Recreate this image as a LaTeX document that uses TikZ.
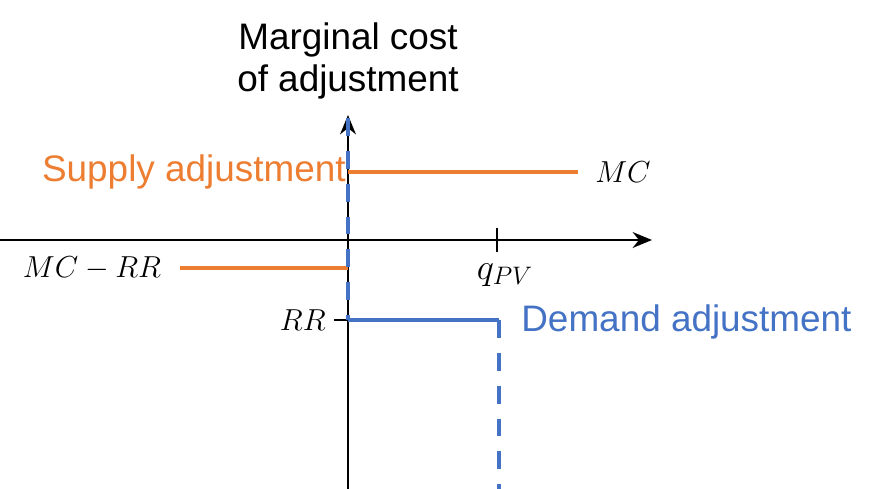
\documentclass[tikz,border=0pt]{standalone}
\usepackage{fontspec}
\setmainfont{Liberation Sans}
\usetikzlibrary{arrows.meta}
\definecolor{supplyorange}{RGB}{237,125,49}
\definecolor{demandblue}{RGB}{68,114,196}
\tikzset{
    axis/.style = {black, line width = 1.4pt},
    supplyline/.style = {supplyorange, line width = 2.4pt},
    demandline/.style = {demandblue, line width = 2.4pt},
    demanddash/.style = {demandline, dash pattern = on 10.2pt off 8.5pt},
    bigtext/.style = {font = \fontsize{21}{24}\selectfont, inner sep = 0pt},
    mathlabel/.style = {font = \fontsize{19}{22}\selectfont, inner sep = 0pt}
}
\begin{document}
\begin{tikzpicture}[x = 0.02cm, y = -0.02cm]
                \useasboundingbox (0,0) rectangle (885,489);
                % axes
                \coordinate (O) at (348,240);
                \coordinate (xstart) at (0,240);
                \coordinate (xend) at (652,240);
                \coordinate (ystart) at (348,489);
                \coordinate (yend) at (348,115);
                \draw[axis, -{Stealth[length=11pt, width=9pt]}] (xstart) -- (xend);
                \draw[axis, -{Stealth[length=11pt, width=9pt]}] (ystart) -- (yend);
                % ticks
                \coordinate (qtop) at (497,228);
                \coordinate (qbot) at (497,252);
                \draw[axis] (qtop) -- (qbot);
                \coordinate (rrleft) at (334,320);
                \coordinate (rrright) at (362,320);
                \draw[axis] (rrleft) -- (rrright);
                % supply adjustment
                \coordinate (mcleft) at (348,172);
                \coordinate (mcright) at (578,172);
                \draw[supplyline] (mcleft) -- (mcright);
                \coordinate (mrleft) at (180,268);
                \coordinate (mrright) at (348,268);
                \draw[supplyline] (mrleft) -- (mrright);
                % demand adjustment
                \coordinate (dtop) at (348,118);
                \coordinate (dcorner) at (348,320);
                \coordinate (qcorner) at (499,320);
                \coordinate (qend) at (499,489);
                \draw[demanddash] (dtop) -- (dcorner);
                \draw[demandline] (dcorner) -- (qcorner);
                \draw[demanddash] (qcorner) -- (qend);
                % labels
                \node[bigtext, align = center] (title) at (348,61) {Marginal cost\\of adjustment};
                \node[bigtext, supplyorange, anchor = east] (supply) at (346,172) {Supply adjustment};
                \node[bigtext, demandblue, anchor = west] (demand) at (521,322) {Demand adjustment};
                \node[mathlabel] (mc) at (623,172) {$MC$};
                \node[mathlabel] (mcrr) at (92,268) {$MC-RR$};
                \node[mathlabel, font = \fontsize{21}{24}\selectfont] (qpv) at (505,275) {$q_{PV}$};
                \node[mathlabel, anchor = east] (rr) at (326,320) {$RR$};

            \end{tikzpicture}
\end{document}
